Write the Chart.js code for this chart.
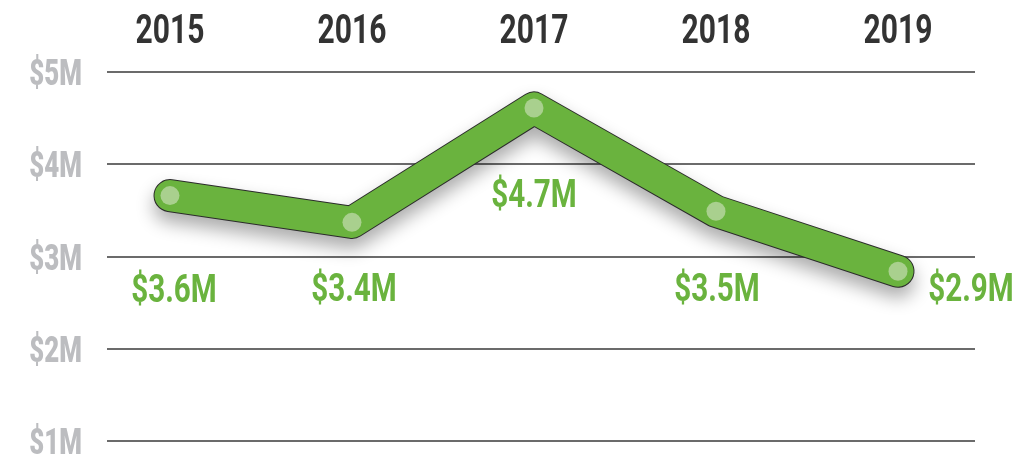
<!DOCTYPE html>
<html>
<head>
<meta charset="utf-8">
<script src="https://cdn.jsdelivr.net/npm/chart.js@4"></script>
<style>
  html, body { margin: 0; padding: 0; background: #fff; }
  #wrap { width: 1014px; height: 454px; }
</style>
</head>
<body>
<div id="wrap"><canvas id="grafico"></canvas></div>
<script>
// dados
const years = ["2015", "2016", "2017", "2018", "2019"];
const revenue = [3.66, 3.37, 4.61, 3.49, 2.84];
const revenueLabels = ["$3.6M", "$3.4M", "$4.7M", "$3.5M", "$2.9M"];
const yTicks = [1, 2, 3, 4, 5];

const FONT = "Roboto, 'Liberation Sans', sans-serif";
const GREEN = "#6ab33e";

// deslocamento dos rótulos em relação ao ponto
const labelDx = [4, 2, 0, 1, 73];
const labelDy = [92, 65, 85, 76, 16];

const points = revenue.map((v, i) => ({ x: i, y: v }));

// fonte condensada simulada (escala horizontal)
function narrowText(c, text, x, y, align, sx) {
    c.save();
    c.translate(x, y);
    c.scale(sx, 1);
    c.textAlign = align;
    c.textBaseline = "alphabetic";
    c.fillText(text, 0, 0);
    c.restore();
}

// sombra por baixo da faixa verde
const shadowPlugin = {
    id: "shadow",
    beforeDatasetDraw(chart, args) {
        if (args.index !== 0) return;
        const c = chart.ctx;
        c.save();
        c.shadowColor = "rgba(0,0,0,0.33)";
        c.shadowBlur = 18;
        c.shadowOffsetY = 10;
    },
    afterDatasetDraw(chart, args) {
        if (args.index !== 0) return;
        chart.ctx.restore();
    }
};

// textos dos eixos e rótulos de valor
const textPlugin = {
    id: "texts",
    afterDraw(chart) {
        const c = chart.ctx;
        const xs = chart.scales.x;
        const ys = chart.scales.y;
        c.save();

        c.font = "bold 40px " + FONT;
        c.fillStyle = "#333333";
        years.forEach((yr, i) => narrowText(c, yr, xs.getPixelForValue(i), 43, "center", 0.75));

        c.font = "900 37px " + FONT;
        c.fillStyle = "#bcbdc0";
        yTicks.forEach((v) => narrowText(c, "$" + v + "M", 82, ys.getPixelForValue(v) + 13, "right", 0.7));

        c.font = "bold 39px " + FONT;
        c.fillStyle = GREEN;
        const meta = chart.getDatasetMeta(1);
        meta.data.forEach((pt, i) => {
            narrowText(c, revenueLabels[i], pt.x + labelDx[i], pt.y + labelDy[i] + 14, "center", 0.76);
        });
        c.restore();
    }
};

new Chart(document.getElementById("grafico"), {
    type: "line",
    data: {
        datasets: [
            {
                data: points,
                order: 2,
                borderColor: "#2b2b2b",
                borderWidth: 33,
                borderCapStyle: "round",
                borderJoinStyle: "round",
                pointRadius: 0,
                clip: false
            },
            {
                data: points,
                order: 1,
                borderColor: GREEN,
                borderWidth: 31,
                borderCapStyle: "round",
                borderJoinStyle: "round",
                pointRadius: 9.5,
                pointBorderWidth: 0,
                pointBackgroundColor: "#a9d08e",
                clip: false
            }
        ]
    },
    options: {
        responsive: true,
        maintainAspectRatio: false,
        animation: false,
        layout: { padding: { top: 0, right: 39, bottom: 13, left: 0 } },
        plugins: {
            legend: { display: false },
            tooltip: { enabled: false }
        },
        scales: {
            x: {
                type: "linear",
                position: "top",
                min: -0.346,
                max: 4.423,
                afterFit(scale) { scale.height = 72; },
                grid: { display: false, drawTicks: false },
                border: { display: false },
                ticks: { display: false }
            },
            y: {
                min: 1,
                max: 5,
                afterBuildTicks(scale) {
                    scale.ticks = yTicks.map((v) => ({ value: v }));
                },
                afterFit(scale) { scale.width = 107; },
                grid: { color: "#6b6b6b", lineWidth: 2, drawTicks: false },
                border: { display: false },
                ticks: { display: false }
            }
        }
    },
    plugins: [shadowPlugin, textPlugin]
});
</script>
</body>
</html>
